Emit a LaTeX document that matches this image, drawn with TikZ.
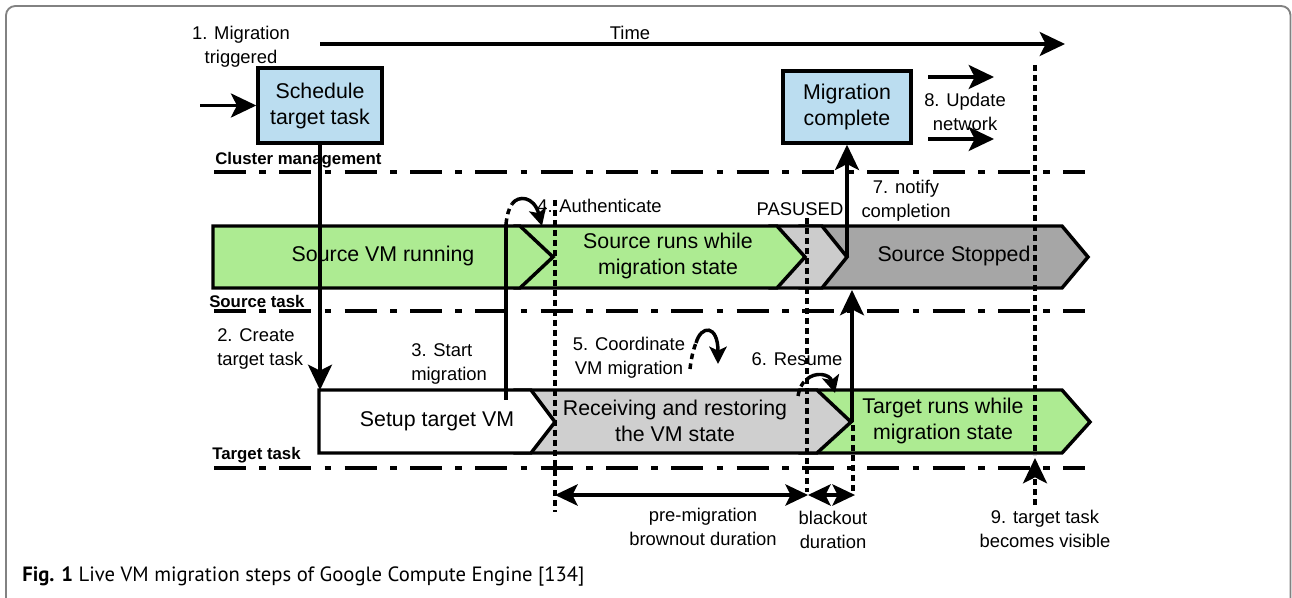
\documentclass[tikz,border=0pt]{standalone}
\usepackage{fontspec}
\setmainfont{Liberation Sans}
\newfontfamily\capfont{PT Sans}
\usetikzlibrary{arrows.meta}
\definecolor{boxblue}{RGB}{187,221,240}
\definecolor{srcgreen}{RGB}{173,235,146}
\definecolor{pausegray}{RGB}{204,204,204}
\definecolor{stopgray}{RGB}{166,166,166}
\definecolor{recvgray}{RGB}{207,207,207}
\definecolor{framegray}{RGB}{130,130,130}
\tikzset{
  ln/.style={line width=2.6pt},
  arr/.style={ln, -{Stealth[length=19pt,width=18pt,inset=4.5pt]}},
  darr/.style={ln, {Stealth[length=17pt,width=16pt,inset=4pt]}-{Stealth[length=17pt,width=16pt,inset=4pt]}},
  carr/.style={ln, -{Stealth[length=13pt,width=13pt,inset=3pt]}},
  dotl/.style={line width=2.6pt, dash pattern=on 4.2pt off 3.3pt},
  dashdot/.style={line width=2.6pt, dash pattern=on 24pt off 10pt on 5pt off 10pt},
  chev/.style={draw, line width=2.6pt, line join=miter},
  bluebox/.style={draw, line width=2.6pt, fill=boxblue, align=center, inner sep=0pt,
    font=\fontsize{16}{19.5}\selectfont},
  bandtxt/.style={align=center, inner sep=0pt, font=\fontsize{16}{19.5}\selectfont},
  lbl/.style={align=center, inner sep=0pt, font=\fontsize{13.8}{18}\selectfont},
  lbll/.style={align=left, inner sep=0pt, font=\fontsize{13.8}{18}\selectfont},
  rowlbl/.style={inner sep=0pt, anchor=west, font=\fontsize{12.6}{15}\selectfont\bfseries},
}
\begin{document}
\begin{tikzpicture}[x=0.75pt,y=-0.75pt]
\useasboundingbox (0,0) rectangle (1292,598);
% outer frame
\draw[framegray, line width=1.4pt, rounded corners=7pt] (6,598) -- (6,6) -- (1290.5,6) -- (1290.5,598);

% time axis
\coordinate (tA) at (320,44);
\coordinate (tB) at (1065,44);
\draw[arr] (tA) -- (tB);
\node[lbl] (time) at (630,33) {Time};
\node[lbl] (l1) at (241,47) {1. Migration\\triggered};

% lane separators
\coordinate (c1) at (214,172); \coordinate (c2) at (1085,172);
\coordinate (s1) at (214,311); \coordinate (s2) at (1085,311);
\coordinate (g1) at (214,468); \coordinate (g2) at (1085,468);
\draw[dashdot] (c1) -- (c2);
\draw[dashdot] (s1) -- (s2);
\draw[dashdot] (g1) -- (g2);
\node[rowlbl] (cm) at (215,160) {Cluster management};
\node[rowlbl] (st) at (209,301) {Source task};
\node[rowlbl] (tt) at (212,455) {Target task};

% source row (drawn right to left)
\draw[chev, fill=stopgray] (800,226) -- (1062,226) -- (1088,257) -- (1062,288) -- (800,288) -- cycle;
\draw[chev, fill=pausegray] (770,226) -- (822,226) -- (847,257) -- (822,288) -- (770,288) -- cycle;
\draw[chev, fill=srcgreen] (515,226) -- (777,226) -- (805,257) -- (777,288) -- (515,288) -- cycle;
\draw[chev, fill=srcgreen] (213,226) -- (520,226) -- (553,257) -- (520,288) -- (213,288) -- cycle;
\node[bandtxt] (svm) at (383,256) {Source VM running};
\node[bandtxt] (sruns) at (668,256) {Source runs while\\migration state};
\node[bandtxt] (sstop) at (954,256) {Source Stopped};
\node[lbl] (paused) at (800,209) {PASUSED};

% target row
\draw[chev, fill=srcgreen] (800,390) -- (1062,390) -- (1090,422) -- (1062,453) -- (800,453) -- cycle;
\draw[chev, fill=recvgray] (515,390) -- (817,390) -- (851,422) -- (817,453) -- (515,453) -- cycle;
\draw[chev, fill=white] (319,390) -- (531,390) -- (555,422) -- (531,453) -- (319,453) -- cycle;
\node[bandtxt] (setup) at (437,421) {Setup target VM};
\node[bandtxt] (recv) at (675,421) {Receiving and restoring\\the VM state};
\node[bandtxt] (truns) at (943,421) {Target runs while\\migration state};

% dotted time markers
\coordinate (d1a) at (555,200); \coordinate (d1b) at (555,512);
\coordinate (d2a) at (807,218); \coordinate (d2b) at (807,492);
\coordinate (d3a) at (853,425); \coordinate (d3b) at (853,495);
\coordinate (d4a) at (1035,65); \coordinate (d4b) at (1035,455);
\draw[dotl] (d1a) -- (d1b);
\draw[dotl] (d2a) -- (d2b);
\draw[dotl] (d3a) -- (d3b);
\draw[dotl] (d4a) -- (d4b);

% cluster management boxes
\node[bluebox, minimum width=93pt, minimum height=56pt] (sched) at (320,105.5) {Schedule\\target task};
\coordinate (in) at (200,105.5);
\draw[arr] (in) -- (sched.west);
\node[bluebox, minimum width=96pt, minimum height=54pt] (mcomp) at (847,107) {Migration\\complete};

% 2. create target task
\coordinate (setupTL) at (320,390);
\draw[arr] (sched.south) -- (setupTL);
\node[lbll, anchor=west] (l2) at (217,349) {2. Create\\target task};

% 3. start migration
\coordinate (m3a) at (506,400); \coordinate (m3b) at (506,224);
\draw[ln] (m3a) -- (m3b);
\node[lbll, anchor=west] (l3) at (411,364) {3. Start\\migration};

% 4. authenticate
\coordinate (a4m) at (512,204); \coordinate (a4t) at (542,226);
\draw[dotl] (m3b) .. controls (507,215) and (509,208) .. (a4m);
\draw[carr] (a4m) .. controls (518,195) and (534,196) .. (a4t);
\node[lbl, anchor=west] (l4) at (537,206) {4. Authenticate};

% 5. coordinate
\coordinate (a5s) at (690,369); \coordinate (a5m) at (696,343); \coordinate (a5t) at (718,364);
\draw[dotl] (a5s) .. controls (691,360) and (693,350) .. (a5m);
\draw[carr] (a5m) .. controls (701,325) and (718,324) .. (a5t);
\node[lbl] (l5) at (629,358) {5. Coordinate\\VM migration};

% 6. resume
\coordinate (a6s) at (798,396); \coordinate (a6m) at (806,380); \coordinate (a6t) at (835,393);
\draw[dotl] (a6s) .. controls (799,389) and (802,383) .. (a6m);
\draw[carr] (a6m) .. controls (815,371) and (830,374) .. (a6t);
\node[lbl] (l6) at (797,359) {6. Resume};

% resume -> source stopped
\coordinate (r6a) at (852,422); \coordinate (r6b) at (852,290);
\draw[arr] (r6a) -- (r6b);

% 7. notify completion
\coordinate (n7) at (847,257);
\draw[arr] (n7) -- (mcomp.south);
\node[lbl] (l7) at (906,201) {7. notify\\completion};

% 8. update network
\coordinate (u1a) at (928,77); \coordinate (u1b) at (994,77);
\coordinate (u2a) at (928,139); \coordinate (u2b) at (994,139);
\draw[arr] (u1a) -- (u1b);
\draw[arr] (u2a) -- (u2b);
\node[lbl] (l8) at (965,112) {8. Update\\network};

% durations
\coordinate (p1) at (555,495); \coordinate (p2) at (808,495); \coordinate (p3) at (855,495);
\draw[darr] (p1) -- (p2);
\draw[darr] (p2) -- (p3);
\node[lbl] (pre) at (703,527) {pre-migration\\brownout duration};
\node[lbl] (black) at (833,530) {blackout\\duration};

% 9. target task visible
\coordinate (v9a) at (1035,505); \coordinate (v9m) at (1035,476); \coordinate (v9t) at (1035,458);
\draw[dotl] (v9a) -- (v9m);
\draw[arr] (v9m) -- (v9t);
\node[lbl] (l9) at (1045,529) {9. target task\\becomes visible};

% caption
\node[inner sep=0pt, anchor=west, font=\capfont\fontsize{15.5}{18}\selectfont] (cap) at (22,577)
  {\textbf{Fig. 1} Live VM migration steps of Google Compute Engine [134]};
\end{tikzpicture}
\end{document}
